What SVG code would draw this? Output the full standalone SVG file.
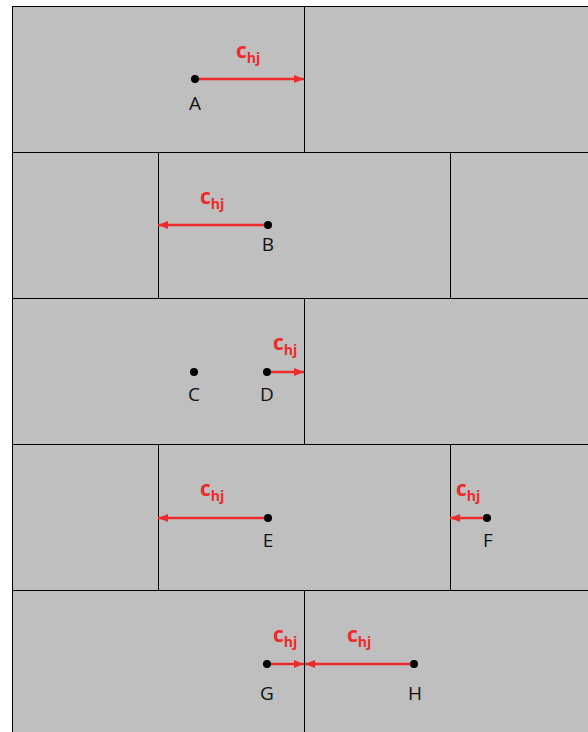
<svg xmlns="http://www.w3.org/2000/svg" width="588" height="732" viewBox="0 0 588 732">
<style>
.grid{stroke:#000;stroke-width:1;fill:none}
.arr{stroke:#ee2a2a;stroke-width:2.5;fill:none;marker-end:url(#ah)}
.dot{fill:#000}
.lbl{font-family:"Open Sans","Liberation Sans",sans-serif;font-size:19px;fill:#111;text-anchor:middle}
.c{font-family:"Open Sans","Liberation Sans",sans-serif;font-weight:bold;font-size:21px;fill:#ee2a2a}
.s{font-size:14px}
</style>
<defs>
<marker id="ah" viewBox="0 0 10 8" refX="10" refY="4" markerWidth="10" markerHeight="8" markerUnits="userSpaceOnUse" orient="auto">
<path d="M0,0 L10,4 L0,8 z" fill="#ee2a2a"/>
</marker>
</defs>
<rect x="0" y="0" width="588" height="732" fill="#fff"/>
<rect x="12" y="6" width="580" height="730" fill="#bfbfbf"/>
<g id="grid" class="grid">
<path d="M12,6.5 H588 M12.5,6 V732 M12,152.5 H588 M12,298.5 H588 M12,444.5 H588 M12,590.5 H588"/>
<path d="M304.5,6 V152 M158.5,152 V298 M450.5,152 V298 M304.5,298 V444 M158.5,444 V590 M450.5,444 V590 M304.5,590 V732"/>
</g>
<g id="connectors">
<line class="arr" x1="196" y1="79" x2="304" y2="79"/>
<line class="arr" x1="267" y1="225" x2="158" y2="225"/>
<line class="arr" x1="268" y1="372" x2="304" y2="372"/>
<line class="arr" x1="267" y1="518" x2="158" y2="518"/>
<line class="arr" x1="486" y1="518" x2="450" y2="518"/>
<line class="arr" x1="268" y1="664" x2="304" y2="664"/>
<line class="arr" x1="414" y1="664" x2="305" y2="664"/>
</g>
<g id="A"><circle class="dot" cx="195" cy="79" r="4"/><text class="lbl" x="195" y="110">A</text></g>
<g id="B"><circle class="dot" cx="268" cy="225" r="4"/><text class="lbl" x="268" y="251">B</text></g>
<g id="C"><circle class="dot" cx="194" cy="372" r="4"/><text class="lbl" x="194" y="401">C</text></g>
<g id="D"><circle class="dot" cx="267" cy="372" r="4"/><text class="lbl" x="267" y="401">D</text></g>
<g id="E"><circle class="dot" cx="268" cy="518" r="4"/><text class="lbl" x="268" y="547">E</text></g>
<g id="F"><circle class="dot" cx="487" cy="518" r="4"/><text class="lbl" x="488" y="547">F</text></g>
<g id="G"><circle class="dot" cx="267" cy="664" r="4"/><text class="lbl" x="267" y="700">G</text></g>
<g id="H"><circle class="dot" cx="414" cy="664" r="4"/><text class="lbl" x="415" y="700">H</text></g>
<g id="labels">
<text class="c" x="236" y="58">c<tspan class="s" dy="5">hj</tspan></text>
<text class="c" x="200" y="204">c<tspan class="s" dy="5">hj</tspan></text>
<text class="c" x="273" y="350">c<tspan class="s" dy="5">hj</tspan></text>
<text class="c" x="200" y="496">c<tspan class="s" dy="5">hj</tspan></text>
<text class="c" x="456" y="496">c<tspan class="s" dy="5">hj</tspan></text>
<text class="c" x="273" y="642">c<tspan class="s" dy="5">hj</tspan></text>
<text class="c" x="347" y="642">c<tspan class="s" dy="5">hj</tspan></text>
</g>
</svg>
